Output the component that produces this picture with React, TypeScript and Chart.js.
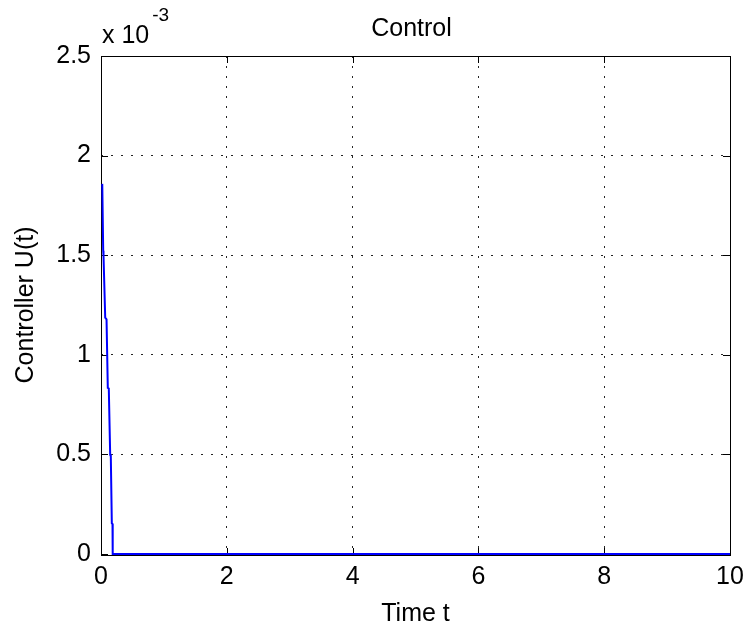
import { useEffect, useRef } from "react";
import { Chart, registerables } from "chart.js";

Chart.register(...registerables);

// ---- data ----
const timeValues = [0.02, 0.035, 0.04, 0.067, 0.088, 0.108, 0.124, 0.146, 0.156, 0.172, 0.183, 0.186, 10];
const controlValues = [
  1.858e-3, 1.522e-3, 1.497e-3, 1.186e-3, 1.178e-3, 0.834e-3, 0.831e-3, 0.498e-3, 0.49e-3, 0.154e-3,
  0.151e-3, 0, 0,
];
const xTickValues = [0, 2, 4, 6, 8, 10];
const yTickValues = [0, 0.0005, 0.001, 0.0015, 0.002, 0.0025];
const titleText = "Control";
const xAxisLabel = "Time t";
const yAxisLabel = "Controller U(t)";
const exponentBase = "x 10";
const exponentPower = "-3";

const FONT_FAMILY = "'Liberation Sans', Arial, sans-serif";
const FONT_SIZE = 25;

const matlabPlugin = {
  id: "matlabDecor",
  beforeDatasetsDraw(chart: any) {
    const { ctx, chartArea: a, scales } = chart;
    ctx.save();
    ctx.strokeStyle = "#000";
    ctx.lineWidth = 1;
    ctx.setLineDash([]);
    const bottom = a.bottom + 1;
    // inner tick marks
    const tl = 7;
    ctx.beginPath();
    for (const v of xTickValues) {
      const px = Math.round(scales.x.getPixelForValue(v)) + 0.5;
      ctx.moveTo(px, bottom);
      ctx.lineTo(px, bottom - tl);
      ctx.moveTo(px, a.top);
      ctx.lineTo(px, a.top + tl);
    }
    for (const v of yTickValues) {
      const py = Math.round(scales.y.getPixelForValue(v)) + 0.5;
      ctx.moveTo(a.left, py);
      ctx.lineTo(a.left + tl, py);
      ctx.moveTo(a.right, py);
      ctx.lineTo(a.right - tl, py);
    }
    ctx.stroke();
    // axes box
    ctx.strokeRect(a.left + 0.5, a.top + 0.5, a.right - a.left, bottom - a.top);
    ctx.restore();
  },
  afterDraw(chart: any) {
    const { ctx, chartArea: a } = chart;
    ctx.save();
    ctx.fillStyle = "#000";
    ctx.font = `${FONT_SIZE}px ${FONT_FAMILY}`;
    ctx.textBaseline = "alphabetic";
    ctx.textAlign = "center";
    ctx.fillText(titleText, (a.left + a.right) / 2 - 4, 36);
    ctx.textAlign = "left";
    ctx.fillText(exponentBase, a.left + 1, 43);
    const w = ctx.measureText(exponentBase).width;
    ctx.font = `${Math.round(FONT_SIZE * 0.75)}px ${FONT_FAMILY}`;
    ctx.fillText(exponentPower, a.left + 1 + w + 3, 21);
    ctx.restore();
  },
};

const innerGridColor = (min: number, max: number) => (c: any) => {
  const v = c.tick ? c.tick.value : NaN;
  return v === min || v === max ? "rgba(0,0,0,0)" : "rgba(0,0,0,0.85)";
};

export default function App() {
  const canvasRef = useRef<HTMLCanvasElement | null>(null);

  useEffect(() => {
    const canvas = canvasRef.current;
    if (!canvas) return;
    const points = timeValues.map((t, i) => ({ x: t, y: controlValues[i] }));
    const font = { family: FONT_FAMILY, size: FONT_SIZE, lineHeight: 1 };
    const chart = new Chart(canvas, {
      type: "line",
      data: {
        datasets: [
          {
            data: points,
            borderColor: "#0000ff",
            backgroundColor: "#0000ff",
            borderWidth: 2,
            pointRadius: 0,
            tension: 0,
            fill: false,
            clip: 2,
          },
        ],
      },
      options: {
        animation: false,
        responsive: false,
        devicePixelRatio: 1,
        layout: { padding: { left: 0, right: 16, top: 56, bottom: 0 } },
        plugins: { legend: { display: false }, tooltip: { enabled: false }, title: { display: false } },
        scales: {
          x: {
            type: "linear",
            min: 0,
            max: 10,
            afterBuildTicks: (s: any) => {
              s.ticks = xTickValues.map((v) => ({ value: v }));
            },
            afterFit: (s: any) => {
              s.height = 76;
              s.paddingLeft = 0;
              s.paddingRight = 0;
            },
            ticks: {
              color: "#000",
              font,
              padding: 11,
              maxRotation: 0,
              autoSkip: false,
              callback: (v: any) => String(v),
            },
            grid: { color: innerGridColor(0, 10), lineWidth: 1, drawTicks: false },
            border: { display: false, dash: [2, 8] },
            title: { display: true, text: xAxisLabel, color: "#000", font, padding: { top: 0, bottom: 3 } },
          },
          y: {
            type: "linear",
            min: 0,
            max: 0.0025,
            afterBuildTicks: (s: any) => {
              s.ticks = yTickValues.map((v) => ({ value: v }));
            },
            afterFit: (s: any) => {
              s.width = 101;
              s.paddingTop = 0;
              s.paddingBottom = 0;
            },
            ticks: {
              color: "#000",
              font,
              padding: 10,
              autoSkip: false,
              callback: (v: any) => String(Math.round(Number(v) * 1e4) / 10),
            },
            grid: { color: innerGridColor(0, 0.0025), lineWidth: 1, drawTicks: false },
            border: { display: false, dash: [2, 8] },
            title: { display: true, text: yAxisLabel, color: "#000", font, padding: { top: 14, bottom: 0 } },
          },
        },
      },
      plugins: [matlabPlugin],
    });
    return () => chart.destroy();
  }, []);

  return (
    <div style={{ position: "fixed", left: 0, top: 0, width: 746, height: 630, background: "#fff" }}>
      <canvas ref={canvasRef} width={746} height={630} style={{ display: "block" }} />
    </div>
  );
}
